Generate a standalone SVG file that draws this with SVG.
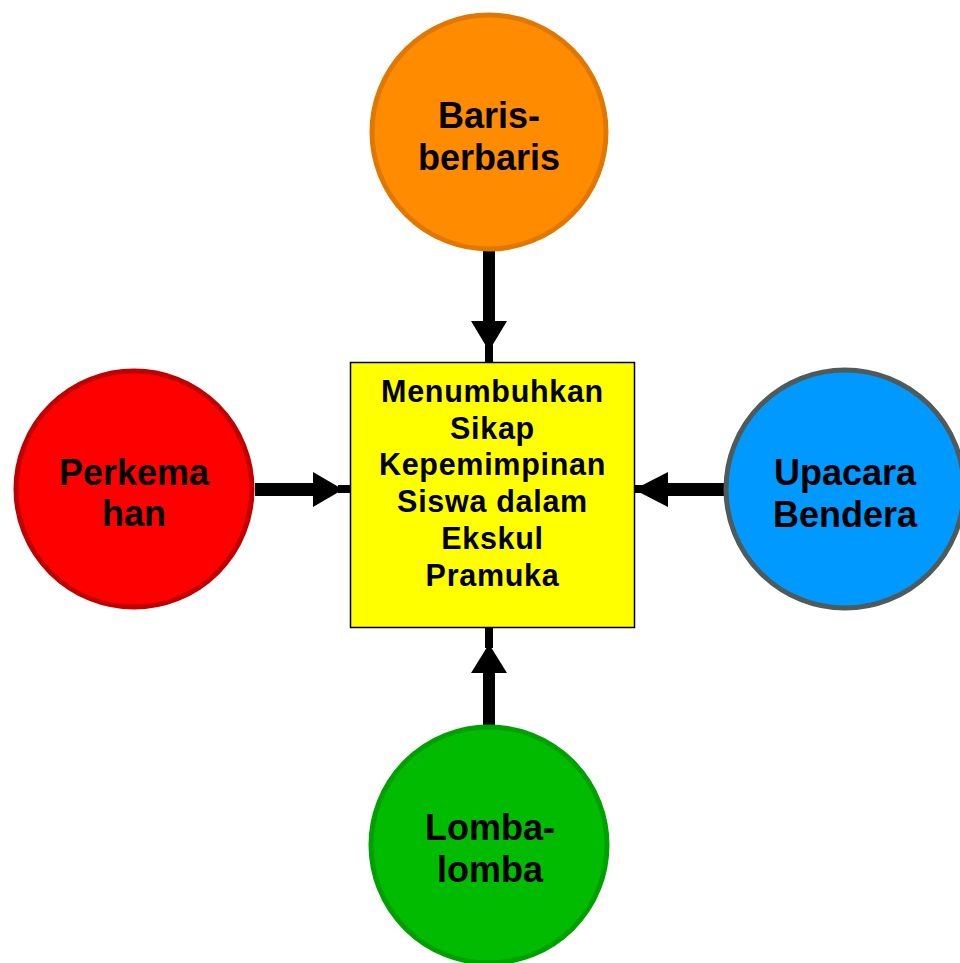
<svg xmlns="http://www.w3.org/2000/svg" width="960" height="963" viewBox="0 0 960 963">
<style>
.lbl{font-family:"Liberation Sans",Arial,sans-serif;font-weight:bold;fill:#000;text-anchor:middle}
.big{font-size:36px}
.box{font-size:30.5px;letter-spacing:0.7px}
.ar{fill:#000}
</style>
<rect width="960" height="963" fill="#fff"/>
<g id="connectors">
  <!-- top -->
  <rect class="ar" x="483" y="250" width="12" height="75"/>
  <polygon class="ar" points="471,321 507,321 489,351"/>
  <rect class="ar" x="485" y="345" width="8" height="17"/>
  <!-- left -->
  <rect class="ar" x="255" y="483" width="60" height="13"/>
  <polygon class="ar" points="313,472 313,507 343,489.5"/>
  <rect class="ar" x="338" y="485" width="12" height="8"/>
  <!-- right -->
  <rect class="ar" x="665" y="483" width="60" height="13"/>
  <polygon class="ar" points="668,472 668,507 634,489.5"/>
  <rect class="ar" x="635" y="485" width="8" height="8"/>
  <!-- bottom -->
  <rect class="ar" x="483" y="670" width="12" height="58"/>
  <polygon class="ar" points="471,673 507,673 489,644"/>
  <rect class="ar" x="485" y="628" width="8" height="20"/>
</g>
<g id="center">
  <rect x="350.5" y="362.5" width="284" height="265" fill="#FFFF00" stroke="#000" stroke-width="1.5"/>
  <text class="lbl box" x="492.5" y="402">Menumbuhkan</text>
  <text class="lbl box" x="492.5" y="439">Sikap</text>
  <text class="lbl box" x="492.5" y="475">Kepemimpinan</text>
  <text class="lbl box" x="492.5" y="512">Siswa dalam</text>
  <text class="lbl box" x="492.5" y="549">Ekskul</text>
  <text class="lbl box" x="492.5" y="586">Pramuka</text>
</g>
<g id="baris">
  <circle cx="489" cy="132" r="117" fill="#FF8C00" stroke="#E07800" stroke-width="5"/>
  <text class="lbl big" x="489" y="128">Baris-</text>
  <text class="lbl big" x="489" y="170">berbaris</text>
</g>
<g id="perkemahan">
  <circle cx="134" cy="489" r="118" fill="#FF0000" stroke="#C00000" stroke-width="5"/>
  <text class="lbl big" x="134" y="485">Perkema</text>
  <text class="lbl big" x="134" y="526">han</text>
</g>
<g id="upacara">
  <circle cx="845" cy="489" r="119" fill="#0099FF" stroke="#4F5B5B" stroke-width="5"/>
  <text class="lbl big" x="845" y="485">Upacara</text>
  <text class="lbl big" x="845" y="527">Bendera</text>
</g>
<g id="lomba">
  <circle cx="489" cy="845" r="118" fill="#00BB00" stroke="#00A000" stroke-width="5"/>
  <text class="lbl big" x="490" y="840">Lomba-</text>
  <text class="lbl big" x="490" y="882">lomba</text>
</g>
</svg>
